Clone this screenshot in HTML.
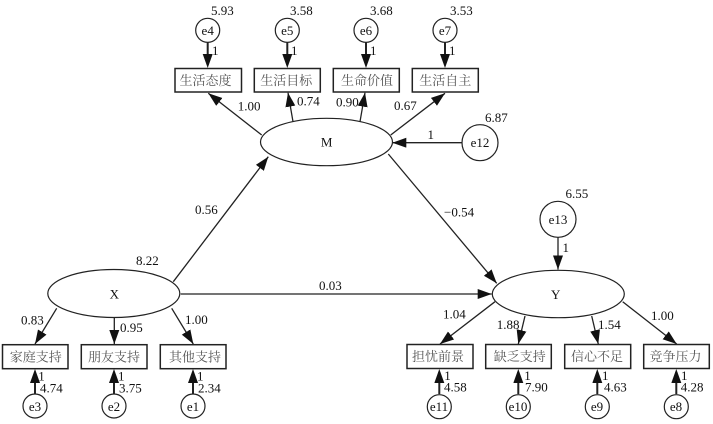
<!DOCTYPE html>
<html><head><meta charset="utf-8"><style>
html,body{margin:0;padding:0;background:#fff}
svg{display:block;filter:blur(0.3px)}
text{font-family:"Liberation Serif","Noto Serif CJK SC",serif;font-size:13px;fill:#111}
.c{text-anchor:middle}
.z{font-size:13px;fill:#555;text-anchor:middle;font-family:"Liberation Serif","Noto Serif CJK SC",serif}
.s{fill:#fff;stroke:#222;stroke-width:1.2}
.b{fill:#fff;stroke:#222;stroke-width:1.5}
.l{stroke:#222;stroke-width:1.3;fill:none}
.t{stroke:#222;stroke-width:2;fill:none}
</style></head><body>
<svg width="713" height="424" viewBox="0 0 713 424" xmlns="http://www.w3.org/2000/svg">
<defs>
<marker id="a" markerUnits="userSpaceOnUse" markerWidth="16" markerHeight="12" refX="14" refY="5" orient="auto"><path d="M0,0L14,5L0,10z" fill="#111"/></marker>
<marker id="b" markerUnits="userSpaceOnUse" markerWidth="16" markerHeight="12" refX="11" refY="5" orient="auto"><path d="M0,0L14,5L0,10z" fill="#111"/></marker>
</defs>
<g class="l">
<line x1="261.7" y1="135" x2="208.3" y2="93.3" marker-end="url(#a)"/>
<line x1="293" y1="121.7" x2="288" y2="92.7" marker-end="url(#a)"/>
<line x1="360" y1="121.7" x2="365" y2="92.7" marker-end="url(#a)"/>
<line x1="390.7" y1="135" x2="445" y2="93.3" marker-end="url(#a)"/>
<line x1="462" y1="142.7" x2="392.3" y2="142.7" marker-end="url(#a)"/>
<line x1="173.3" y1="281.7" x2="268.3" y2="156.7" marker-end="url(#a)"/>
<line x1="388.3" y1="154" x2="496.7" y2="283.3" marker-end="url(#a)"/>
<line x1="180.7" y1="294" x2="491.7" y2="294" marker-end="url(#a)"/>
<line x1="56.7" y1="308.3" x2="35" y2="344" marker-end="url(#a)"/>
<line x1="114.3" y1="318" x2="114.3" y2="344" marker-end="url(#a)"/>
<line x1="171.7" y1="308.3" x2="193.3" y2="344" marker-end="url(#a)"/>
<line x1="495" y1="301.7" x2="440" y2="344" marker-end="url(#a)"/>
<line x1="525" y1="316" x2="518.3" y2="344" marker-end="url(#a)"/>
<line x1="591.7" y1="316" x2="598.3" y2="344" marker-end="url(#a)"/>
<line x1="622.7" y1="301.7" x2="676.7" y2="344" marker-end="url(#a)"/>
<line x1="558" y1="237" x2="558" y2="269.5" marker-end="url(#a)"/>
</g>
<g class="t">
<line x1="207.7" y1="42" x2="207.7" y2="65" marker-end="url(#b)"/>
<line x1="287.3" y1="42" x2="287.3" y2="65" marker-end="url(#b)"/>
<line x1="366" y1="42" x2="366" y2="65" marker-end="url(#b)"/>
<line x1="445" y1="42" x2="445" y2="65" marker-end="url(#b)"/>
<line x1="35" y1="394" x2="35" y2="372" marker-end="url(#b)"/>
<line x1="114" y1="394" x2="114" y2="372" marker-end="url(#b)"/>
<line x1="193" y1="394" x2="193" y2="372" marker-end="url(#b)"/>
<line x1="439.3" y1="394" x2="439.3" y2="372" marker-end="url(#b)"/>
<line x1="518.3" y1="394" x2="518.3" y2="372" marker-end="url(#b)"/>
<line x1="597.3" y1="394" x2="597.3" y2="372" marker-end="url(#b)"/>
<line x1="676.3" y1="394" x2="676.3" y2="372" marker-end="url(#b)"/>
</g>
<ellipse class="s" cx="326.5" cy="142" rx="66" ry="23.7"/>
<ellipse class="s" cx="113.8" cy="293.5" rx="66" ry="24"/>
<ellipse class="s" cx="558.3" cy="294" rx="66" ry="23.7"/>
<circle class="s" cx="207.7" cy="30.3" r="12"/><circle class="s" cx="287.3" cy="30.3" r="12"/><circle class="s" cx="366" cy="30.3" r="12"/><circle class="s" cx="445" cy="30.3" r="12"/>
<circle class="s" cx="480" cy="142.7" r="18"/><circle class="s" cx="558" cy="219.3" r="18"/>
<circle class="s" cx="35" cy="406" r="12"/><circle class="s" cx="114" cy="406" r="12"/><circle class="s" cx="193" cy="406" r="12"/>
<circle class="s" cx="439.3" cy="406.7" r="12"/><circle class="s" cx="518.3" cy="406.7" r="12"/><circle class="s" cx="597.3" cy="406.7" r="12"/><circle class="s" cx="676.3" cy="406.7" r="12"/>
<rect class="b" x="175" y="68.5" width="66.5" height="23.5"/><rect class="b" x="254.3" y="68.5" width="66" height="23.5"/><rect class="b" x="333.3" y="68.5" width="66" height="23.5"/><rect class="b" x="412.3" y="68.5" width="66" height="23.5"/>
<rect class="b" x="2.5" y="344.7" width="65.5" height="24"/><rect class="b" x="81.3" y="344.7" width="65.7" height="24"/><rect class="b" x="160.3" y="344.7" width="65.7" height="24"/>
<rect class="b" x="407" y="344.5" width="66" height="24"/><rect class="b" x="485.7" y="344.5" width="65.6" height="24"/><rect class="b" x="564.7" y="344.5" width="66" height="24"/><rect class="b" x="643.7" y="344.5" width="65.6" height="24"/>
<text class="z" x="205.5" y="85">生活态度</text><text class="z" x="286.3" y="85">生活目标</text><text class="z" x="367" y="85">生命价值</text><text class="z" x="445.3" y="85">生活自主</text>
<text class="z" x="35.7" y="361.5">家庭支持</text><text class="z" x="114" y="361.5">朋友支持</text><text class="z" x="195" y="361.5">其他支持</text>
<text class="z" x="438" y="361">担忧前景</text><text class="z" x="519.7" y="361">缺乏支持</text><text class="z" x="597" y="361">信心不足</text><text class="z" x="675.5" y="361">竞争压力</text>
<g class="c">
<text x="326.7" y="146.7">M</text><text x="114.3" y="298.7">X</text><text x="555.7" y="299">Y</text>
<text x="207.7" y="35">e4</text><text x="287.3" y="35">e5</text><text x="366" y="35">e6</text><text x="445" y="35">e7</text>
<text x="480" y="147">e12</text><text x="558" y="224">e13</text>
<text x="35" y="411">e3</text><text x="114" y="411">e2</text><text x="193" y="411">e1</text>
<text x="439" y="411">e11</text><text x="518" y="411">e10</text><text x="597" y="411">e9</text><text x="676" y="411">e8</text>
</g>
<text x="211" y="15">5.93</text><text x="290" y="15">3.58</text><text x="370" y="15">3.68</text><text x="450" y="15">3.53</text>
<text x="485" y="122">6.87</text><text x="565.5" y="198">6.55</text><text x="136" y="265">8.22</text>
<text x="212" y="55">1</text><text x="291" y="55">1</text><text x="370" y="55">1</text><text x="449" y="55">1</text>
<text x="237.7" y="110.7">1.00</text><text x="297" y="105.5">0.74</text><text x="336" y="106.7">0.90</text><text x="394" y="110">0.67</text>
<text x="427.5" y="139">1</text><text x="195" y="214">0.56</text><text x="444" y="216.7">−0.54</text><text x="319" y="290">0.03</text>
<text x="562.5" y="252">1</text>
<text x="21" y="324.5">0.83</text><text x="120" y="332">0.95</text><text x="185" y="324">1.00</text>
<text x="38.3" y="380.7">1</text><text x="118" y="380.7">1</text><text x="197" y="380.7">1</text>
<text x="40" y="392.7">4.74</text><text x="119" y="392.5">3.75</text><text x="198" y="392.5">2.34</text>
<text x="443" y="318.5">1.04</text><text x="496.7" y="329">1.88</text><text x="598" y="329">1.54</text><text x="651" y="320">1.00</text>
<text x="444.3" y="380">1</text><text x="524.3" y="380">1</text><text x="602" y="380">1</text><text x="681" y="380">1</text>
<text x="444" y="391.7">4.58</text><text x="525" y="391.7">7.90</text><text x="604" y="391.7">4.63</text><text x="680.7" y="391.7">4.28</text>
</svg>
</body></html>
